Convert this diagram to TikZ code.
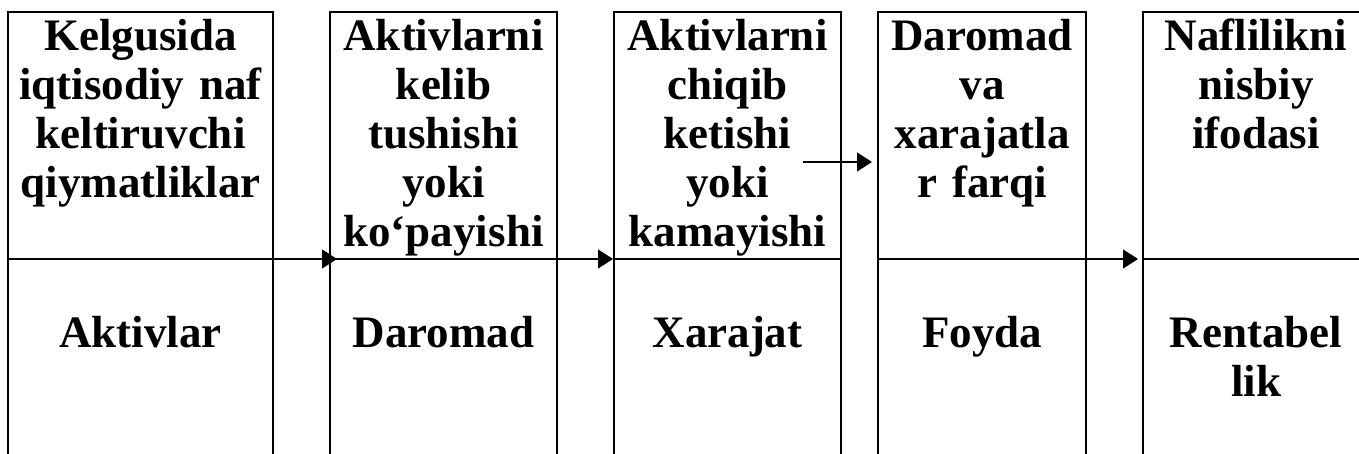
\documentclass[tikz,border=0pt]{standalone}
\usepackage{fontspec}
\setmainfont{Liberation Serif}
\usetikzlibrary{arrows.meta}

\begin{document}
\begin{tikzpicture}[x=1pt, y=1pt,
cell/.style={draw, line width=1.6pt, inner sep=0pt, outer sep=0pt, anchor=north west},
txt/.style={font=\fontsize{45}{49}\selectfont\bfseries, align=center, text width=260pt, inner sep=0pt, anchor=base},
arr/.style={line width=1.2pt, -{Triangle[length=15pt, width=19pt]}},
]
\clip (0,0) rectangle (1359,454);
\node[cell, minimum width=265pt, minimum height=247pt] (k1) at (8,442) {};
\node[cell, minimum width=265pt, minimum height=215pt] (k1b) at (k1.south west) {};
\node[cell, minimum width=227pt, minimum height=247pt] (k2) at (330,442) {};
\node[cell, minimum width=227pt, minimum height=215pt] (k2b) at (k2.south west) {};
\node[cell, minimum width=227pt, minimum height=247pt] (k3) at (614,442) {};
\node[cell, minimum width=227pt, minimum height=215pt] (k3b) at (k3.south west) {};
\node[cell, minimum width=208pt, minimum height=247pt] (k4) at (878,442) {};
\node[cell, minimum width=208pt, minimum height=215pt] (k4b) at (k4.south west) {};
\node[cell, minimum width=226pt, minimum height=247pt] (k5) at (1143,442) {};
\node[cell, minimum width=226pt, minimum height=215pt] (k5b) at (k5.south west) {};

\node[txt] (t1) at ([yshift=-39pt]k1.north) {Kelgusida\\iqtisodiy naf\\keltiruvchi\\qiymatliklar};
\node[txt] (t2) at ([yshift=-39pt]k2.north) {Aktivlarni\\kelib\\tushishi\\yoki\\ko‘payishi};
\node[txt] (t3) at ([yshift=-39pt]k3.north) {Aktivlarni\\chiqib\\ketishi\\yoki\\kamayishi};
\node[txt] (t4) at ([yshift=-39pt]k4.north) {Daromad\\va\\xarajatla\\r farqi};
\node[txt] (t5) at ([yshift=-39pt]k5.north) {Naflilikni\\nisbiy\\ifodasi};

\node[txt] (b1) at ([yshift=-89pt]k1b.north) {Aktivlar};
\node[txt] (b2) at ([yshift=-89pt]k2b.north) {Daromad};
\node[txt] (b3) at ([yshift=-89pt]k3b.north) {Xarajat};
\node[txt] (b4) at ([yshift=-89pt]k4b.north) {Foyda};
\node[txt] (b5) at ([yshift=-89pt]k5b.north) {Rentabel\\lik};

\coordinate (a3) at (803,292);
\draw[arr] (k1.south east) -- ([xshift=7pt]k2.south west);
\draw[arr] ([xshift=-13pt]k2.south east) -- ([xshift=-1pt]k3.south west);
\draw[arr, shorten >=6pt] (a3) -- (a3 -| k4.west);
\draw[arr] ([xshift=-17pt]k4.south east) -- ([xshift=-5pt]k5.south west);
\end{tikzpicture}
\end{document}
